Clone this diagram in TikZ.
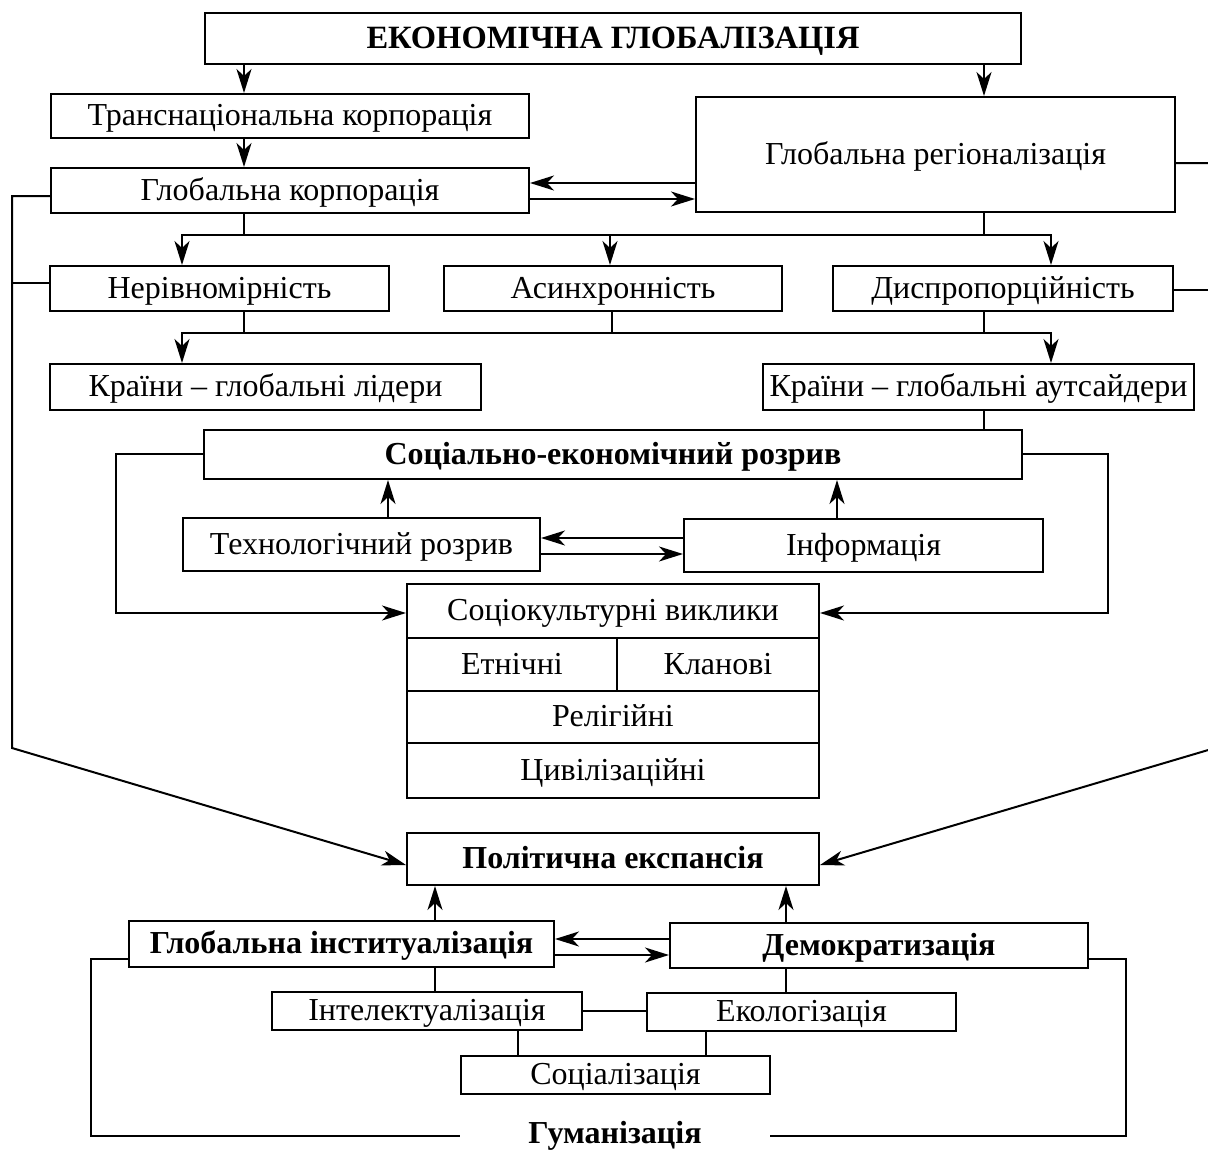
\documentclass[tikz,border=0pt]{standalone}
\usepackage{fontspec}
\setmainfont{Liberation Serif}
\usepackage{tikz}
\usetikzlibrary{arrows.meta}
\tikzset{>={Stealth[length=24pt,width=15pt,inset=7pt]}}
\tikzset{
  blk/.style={draw, line width=2pt, inner sep=0pt, align=center, text height=24pt, text depth=5pt, font=\fontsize{32}{38}\selectfont},
  bblk/.style={blk, font=\fontsize{32}{38}\selectfont\bfseries},
  conn/.style={line width=2pt}
}

\begin{document}
\begin{tikzpicture}[x=1pt,y=-1pt]
    \useasboundingbox (0,0) rectangle (1208,1151);
    % blocks of the upper part
    \node[blk, minimum width=816pt, minimum height=51pt, font=\fontsize{32.5}{39}\selectfont\bfseries] (top) at (613,38.5) {ЕКОНОМІЧНА ГЛОБАЛІЗАЦІЯ};
    \node[blk, minimum width=478pt, minimum height=44pt] (trans) at (290,116) {Транснаціональна корпорація};
    \node[blk, minimum width=478pt, minimum height=45pt] (gcorp) at (290,190.5) {Глобальна корпорація};
    \node[blk, minimum width=479pt, minimum height=115pt] (greg) at (935.5,154.5) {Глобальна регіоналізація};
    \node[blk, minimum width=339pt, minimum height=45pt] (nerivn) at (219.5,288.5) {Нерівномірність};
    \node[blk, minimum width=338pt, minimum height=45pt] (asynch) at (613,288.5) {Асинхронність};
    \node[blk, minimum width=340pt, minimum height=45pt] (dysprop) at (1003,288.5) {Диспропорційність};
    \node[blk, minimum width=431pt, minimum height=46pt] (leaders) at (265.5,387) {Країни -- глобальні лідери};
    \node[blk, minimum width=431pt, minimum height=46pt] (outsid) at (978.5,387) {Країни -- глобальні аутсайдери};
    % gap and challenges
    \node[bblk, minimum width=818pt, minimum height=49pt] (segap) at (613,454.5) {Соціально-економічний розрив};
    \node[blk, minimum width=357pt, minimum height=53pt] (techgap) at (361.5,544.5) {Технологічний розрив};
    \node[blk, minimum width=359pt, minimum height=53pt] (info) at (863.5,545.5) {Інформація};
    \node[blk, minimum width=412pt, minimum height=54pt] (socio) at (613,611) {Соціокультурні виклики};
    \node[blk, minimum width=210pt, minimum height=53pt] (ethnic) at (512,664.5) {Етнічні};
    \node[blk, minimum width=202pt, minimum height=53pt] (clan) at (718,664.5) {Кланові};
    \node[blk, minimum width=412pt, minimum height=52pt] (relig) at (613,717) {Релігійні};
    \node[blk, minimum width=412pt, minimum height=55pt] (civil) at (613,770.5) {Цивілізаційні};
    % lower part
    \node[bblk, minimum width=412pt, minimum height=52pt] (polit) at (613,859) {Політична експансія};
    \node[bblk, minimum width=425pt, minimum height=46pt] (ginst) at (341.5,944) {Глобальна інституалізація};
    \node[bblk, minimum width=418pt, minimum height=45pt] (democr) at (879,945.5) {Демократизація};
    \node[blk, minimum width=310pt, minimum height=38pt] (intel) at (427,1011) {Інтелектуалізація};
    \node[blk, minimum width=309pt, minimum height=38pt] (ecol) at (801.5,1012) {Екологізація};
    \node[blk, minimum width=309pt, minimum height=38pt] (social) at (615.5,1075) {Соціалізація};
    \node[inner sep=0pt, minimum width=310pt, text height=22pt, text depth=7pt, font=\fontsize{32}{38}\selectfont\bfseries] (human) at (615,1136) {Гуманізація};

    \coordinate (busa) at (0,235);
    \coordinate (busb) at (0,333);
    \coordinate (lcorner) at (12,748);
    \coordinate (rcorner) at (1215,748);

    \draw[conn,->] (top.south -| 244,0) -- (trans.north -| 244,0);
    \draw[conn,->] (top.south -| 984,0) -- (greg.north -| 984,0);
    \draw[conn,->] (trans.south -| 244,0) -- (gcorp.north -| 244,0);
    \draw[conn,->] (greg.west |- 0,183) -- (gcorp.east |- 0,183);
    \draw[conn,->] (gcorp.east |- 0,199) -- (greg.west |- 0,199);

    % first bus
    \draw[conn,->] (gcorp.south -| 244,0) |- (busa -| 182,0) -- (nerivn.north -| 182,0);
    \draw[conn,->] (greg.south -| 984,0) |- (busa -| 1051,0) -- (dysprop.north -| 1051,0);
    \draw[conn] (busa -| 244,0) -- (busa -| 984,0);
    \draw[conn,->] (busa -| 610,0) -- (asynch.north -| 610,0);

    % second bus
    \draw[conn,->] (nerivn.south -| 244,0) |- (busb -| 182,0) -- (leaders.north -| 182,0);
    \draw[conn,->] (dysprop.south -| 984,0) |- (busb -| 1051,0) -- (outsid.north -| 1051,0);
    \draw[conn] (busb -| 244,0) -- (busb -| 984,0);
    \draw[conn] (asynch.south -| 612,0) -- (busb -| 612,0);
    \draw[conn] (outsid.south -| 984,0) -- (segap.north -| 984,0);

    % long side lines
    \draw[conn,->] (gcorp.west |- 0,196) -| (lcorner) -- (polit.west |- 0,865);
    \draw[conn] (nerivn.west |- 0,283) -- (lcorner |- 0,283);
    \draw[conn,->] (greg.east |- 0,163) -| (rcorner) -- (polit.east |- 0,865);
    \draw[conn] (dysprop.east |- 0,290) -- (rcorner |- 0,290);

    \draw[conn,->] (segap.west |- 0,454) -- (116,454) |- (socio.west |- 0,613);
    \draw[conn,->] (segap.east |- 0,454) -- (1108,454) |- (socio.east |- 0,613);
    \draw[conn,->] (techgap.north -| 388,0) -- (segap.south -| 388,0);
    \draw[conn,->] (info.north -| 837,0) -- (segap.south -| 837,0);
    \draw[conn,->] (info.west |- 0,538) -- (techgap.east |- 0,538);
    \draw[conn,->] (techgap.east |- 0,554) -- (info.west |- 0,554);

    % political expansion
    \draw[conn,->] (ginst.north -| 435,0) -- (polit.south -| 435,0);
    \draw[conn,->] (democr.north -| 786,0) -- (polit.south -| 786,0);
    \draw[conn,->] (democr.west |- 0,939) -- (ginst.east |- 0,939);
    \draw[conn,->] (ginst.east |- 0,955) -- (democr.west |- 0,955);
    \draw[conn] (ginst.south -| 435,0) -- (intel.north -| 435,0);
    \draw[conn] (democr.south -| 786,0) -- (ecol.north -| 786,0);
    \draw[conn] (intel.east |- 0,1011) -- (ecol.west |- 0,1011);
    \draw[conn] (intel.south -| 518,0) -- (social.north -| 518,0);
    \draw[conn] (ecol.south -| 706,0) -- (social.north -| 706,0);
    \draw[conn] (ginst.west |- 0,959) -- (91,959) |- (human.west);
    \draw[conn] (democr.east |- 0,959) -- (1126,959) |- (human.east);
\end{tikzpicture}
\end{document}
